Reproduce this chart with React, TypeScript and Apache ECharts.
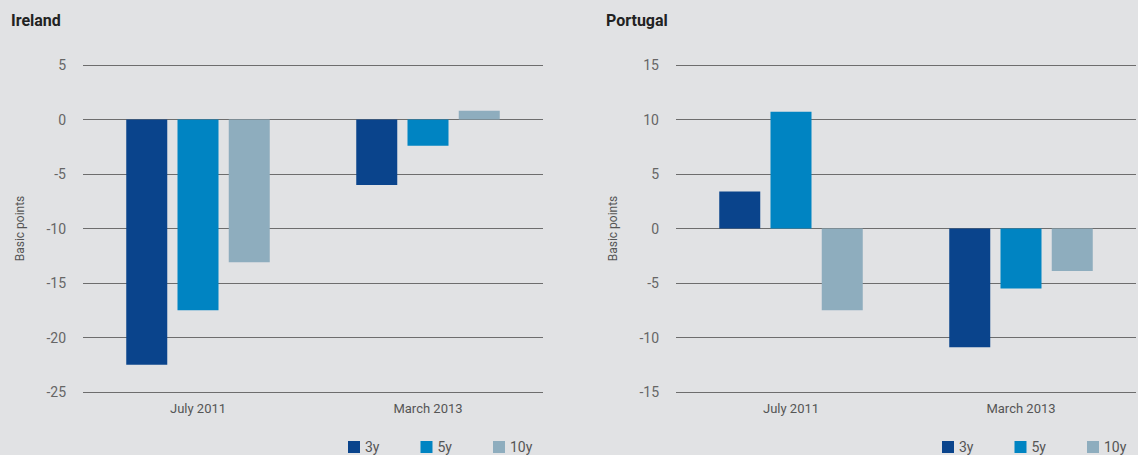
import React, { useEffect, useRef } from "react";
import * as echarts from "echarts";

const categories = ["July 2011", "March 2013"];
const seriesNames = ["3y", "5y", "10y"];
const colors = ["#0a448c", "#0084c2", "#8eadbe"];
const irelandValues = [
  [-22.5, -6.0],
  [-17.5, -2.4],
  [-13.1, 0.8],
];
const portugalValues = [
  [3.4, -10.9],
  [10.7, -5.5],
  [-7.5, -3.9],
];
const irelandTicks = { min: -25, max: 5, interval: 5 };
const portugalTicks = { min: -15, max: 15, interval: 5 };

const FONT = "Roboto";

export default function App() {
  const ref = useRef<HTMLDivElement>(null);
  useEffect(() => {
    document.body.style.margin = "0";
    const chart = echarts.init(ref.current!, null, { renderer: "svg" });
    const yAxisCommon = {
      type: "value" as const,
      axisLine: { show: false },
      axisTick: { show: false },
      axisLabel: { color: "#666", fontSize: 14, fontFamily: FONT, margin: 17 },
      splitLine: { lineStyle: { color: "#6d6d6d", width: 1 } },
      name: "Basic points",
      nameLocation: "middle" as const,
      nameGap: 57,
      nameRotate: 90,
      nameTextStyle: { color: "#555", fontSize: 12, fontFamily: FONT },
    };
    const xAxisCommon = {
      type: "category" as const,
      data: categories,
      axisLine: { show: false },
      axisTick: { show: false },
      axisLabel: { color: "#555", fontSize: 13, fontFamily: FONT, margin: 10 },
    };
    const makeSeries = (vals: number[][], idx: number) =>
      vals.map((v, i) => ({
        name: seriesNames[i],
        type: "bar" as const,
        xAxisIndex: idx,
        yAxisIndex: idx,
        data: v,
        barWidth: 41,
        barGap: "25%",
        itemStyle: { color: colors[i] },
        z: 3,
      }));
    const titleStyle = { fontSize: 16, fontWeight: "bold", color: "#222", fontFamily: FONT };
    const legendCommon = {
      data: seriesNames,
      top: 439,
      padding: 0,
      itemWidth: 12,
      itemHeight: 12,
      itemGap: 41,
      icon: "rect",
      textStyle: { color: "#555", fontSize: 14, fontFamily: FONT, lineHeight: 16 },
    };
    chart.setOption({
      animation: false,
      backgroundColor: "#e1e2e4",
      title: [
        { text: "Ireland", left: 11, top: 12, padding: 0, textStyle: titleStyle },
        { text: "Portugal", left: 606, top: 12, padding: 0, textStyle: titleStyle },
      ],
      legend: [
        { ...legendCommon, left: 348 },
        { ...legendCommon, left: 942 },
      ],
      grid: [
        { left: 83, right: 595, top: 65, bottom: 63 },
        { left: 676, right: 2, top: 65, bottom: 63 },
      ],
      xAxis: [
        { ...xAxisCommon, gridIndex: 0 },
        { ...xAxisCommon, gridIndex: 1 },
      ],
      yAxis: [
        { ...yAxisCommon, gridIndex: 0, ...irelandTicks },
        { ...yAxisCommon, gridIndex: 1, ...portugalTicks },
      ],
      series: [...makeSeries(irelandValues, 0), ...makeSeries(portugalValues, 1)],
    });
    return () => chart.dispose();
  }, []);
  return <div ref={ref} style={{ width: 1138, height: 455 }} />;
}
